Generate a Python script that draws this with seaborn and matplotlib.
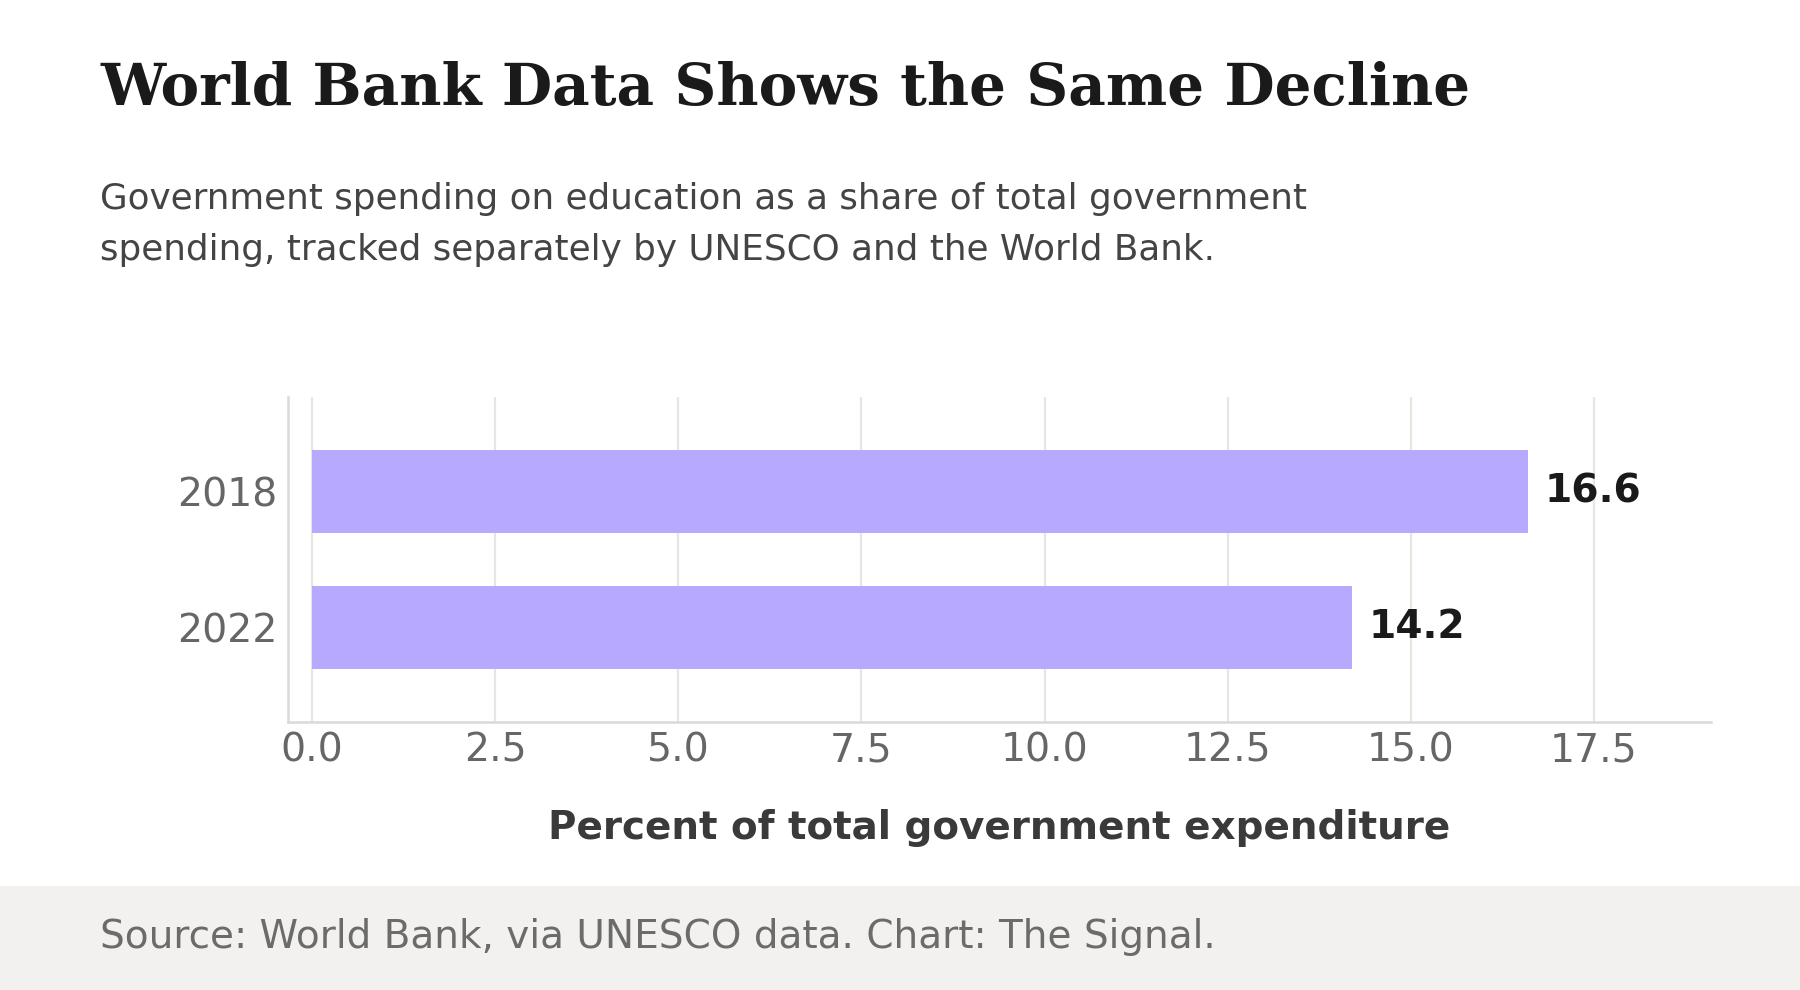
import pandas as pd
import matplotlib.pyplot as plt
import seaborn as sns
from matplotlib.patches import Rectangle

# data
years = ['2018', '2022']
share = [16.6, 14.2]

title = 'World Bank Data Shows the Same Decline'
subtitle_1 = 'Government spending on education as a share of total government'
subtitle_2 = 'spending, tracked separately by UNESCO and the World Bank.'
source = 'Source: World Bank, via UNESCO data. Chart: The Signal.'
x_label = 'Percent of total government expenditure'

df = pd.DataFrame({'year': years, 'share': share})

sns.set_style('white')
plt.rcParams['font.family'] = ['DejaVu Sans']

fig = plt.figure(figsize=(9, 4.95), dpi=200)
ax = fig.add_axes([0.16, 0.2707, 0.7906, 0.3283])

sns.barplot(data=df, x='share', y='year', orient='h', color='#b7a9fd',
            saturation=1, width=0.615, linewidth=0, ax=ax, zorder=2)

ax.set_xlim(-0.33, 19.1)
ax.set_ylim(1.7, -0.7)
ax.set_xticks([0, 2.5, 5, 7.5, 10, 12.5, 15, 17.5])
ax.xaxis.set_major_formatter(plt.FormatStrFormatter('%.1f'))
ax.grid(axis='x', color='#e6e6e2', linewidth=0.8, zorder=0)
ax.set_axisbelow(True)
ax.tick_params(axis='both', length=0, labelsize=14.2, labelcolor='#666666')
ax.tick_params(axis='x', pad=3.5)
ax.tick_params(axis='y', pad=3.7)
ax.set_ylabel('')
ax.set_xlabel(x_label, fontsize=14, fontweight='bold', color='#3a3a3a', labelpad=14.2)

for s in ['top', 'right']:
    ax.spines[s].set_visible(False)
for s in ['left', 'bottom']:
    ax.spines[s].set_color('#d9d9d5')
    ax.spines[s].set_linewidth(0.9)

for i, v in enumerate(share):
    ax.annotate(f'{v:.1f}', xy=(v, i), xytext=(6, 0), textcoords='offset points',
                ha='left', va='center', fontsize=14.1, fontweight='bold', color='#1a1a1a')

fig.text(0.0556, 0.894, title, fontsize=20.9, fontweight='bold',
         family='DejaVu Serif', color='#1a1a1a', va='baseline')
fig.text(0.0556, 0.789, subtitle_1, fontsize=12.9, color='#444444', va='baseline')
fig.text(0.0556, 0.7374, subtitle_2, fontsize=12.9, color='#444444', va='baseline')

fig.patches.append(Rectangle((0, 0), 1, 0.105, transform=fig.transFigure,
                             facecolor='#f2f1ef', edgecolor='none', zorder=0))
fig.text(0.0556, 0.0424, source, fontsize=14.05, color='#6b6b6b', va='baseline')

plt.savefig('out.png', dpi=200, facecolor='white')
